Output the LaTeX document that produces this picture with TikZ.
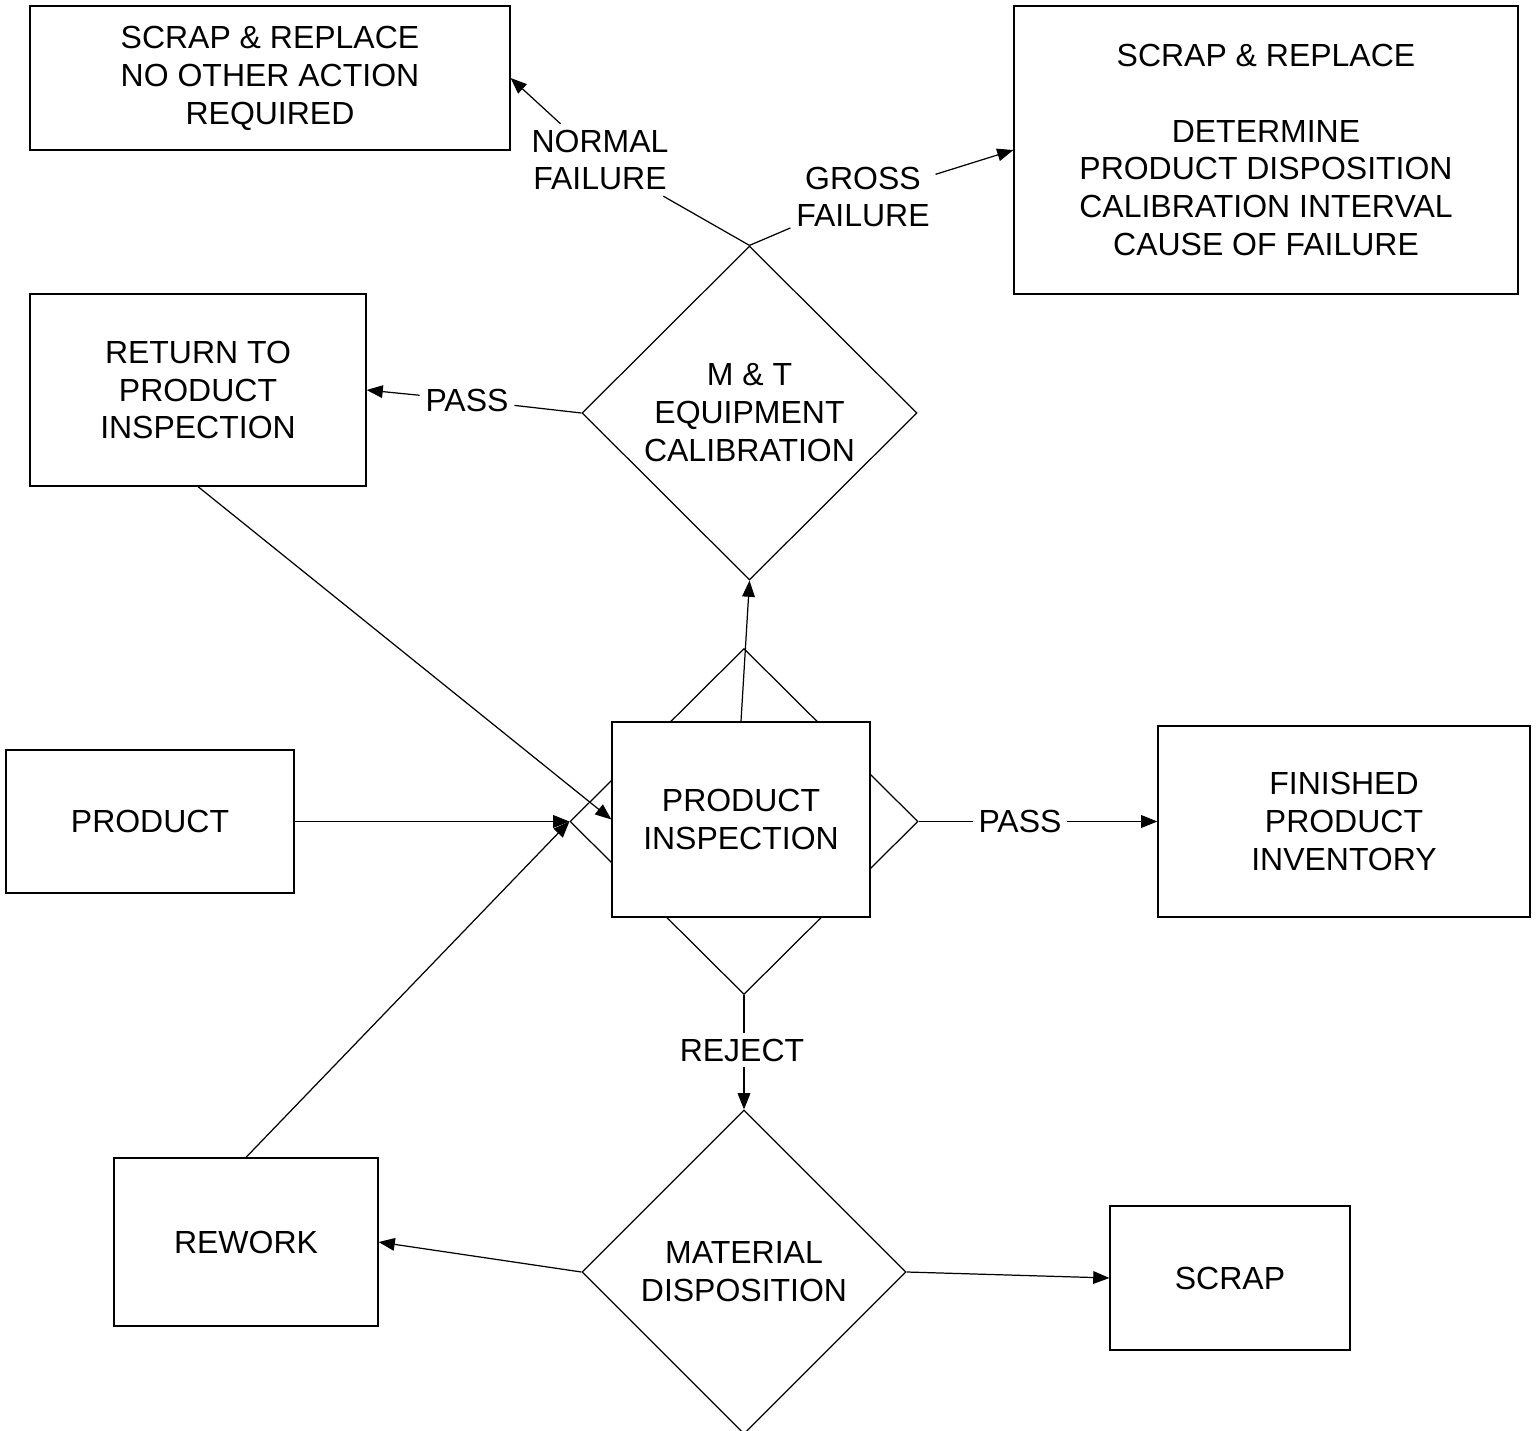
\documentclass[tikz,border=0pt]{standalone}
\usepackage{fontspec}
\setmainfont{Liberation Sans}
\usepackage{tikz}
\usetikzlibrary{arrows.meta}
\usetikzlibrary{shapes.geometric}

\begin{document}
\begin{tikzpicture}[font=\fontsize{9.1}{10.8}\selectfont, line width=0.35pt,
    >={Triangle[length=4.6pt,width=3.6pt]},
    box/.style={draw=black, fill=white, align=center, inner sep=0pt},
    dia/.style={draw=black, diamond, aspect=1, align=center, inner sep=0pt},
    lbl/.style={align=center, inner sep=1.5pt}]
    \useasboundingbox (0,0) rectangle (15.40,-14.31);
    \node[box, minimum width=4.80cm, minimum height=1.44cm] (SRN) at (2.70,-0.78) {SCRAP \& REPLACE\\NO OTHER ACTION\\REQUIRED};
    \node[box, minimum width=5.04cm, minimum height=2.88cm] (SRG) at (12.66,-1.50) {SCRAP \& REPLACE\\[10.8pt]DETERMINE\\PRODUCT DISPOSITION\\CALIBRATION INTERVAL\\CAUSE OF FAILURE};
    \node[box, minimum width=3.36cm, minimum height=1.92cm] (RET) at (1.98,-3.90) {RETURN TO\\PRODUCT\\INSPECTION};
    \node[dia, minimum width=3.35cm, minimum height=3.34cm] (MT) at (7.495,-4.13) {M \& T\\EQUIPMENT\\CALIBRATION};
    \node[dia, minimum width=3.48cm, minimum height=3.46cm] (PID) at (7.44,-8.215) {};
    \node[box, minimum width=2.58cm, minimum height=1.95cm] (PI) at (7.41,-8.195) {PRODUCT\\INSPECTION};
    \node[box, minimum width=2.88cm, minimum height=1.43cm] (PROD) at (1.50,-8.215) {PRODUCT};
    \node[box, minimum width=3.72cm, minimum height=1.91cm] (FIN) at (13.44,-8.215) {FINISHED\\PRODUCT\\INVENTORY};
    \node[dia, minimum width=3.24cm, minimum height=3.24cm] (MD) at (7.44,-12.72) {MATERIAL\\DISPOSITION};
    \node[box, minimum width=2.64cm, minimum height=1.68cm] (RW) at (2.46,-12.42) {REWORK};
    \node[box, minimum width=2.40cm, minimum height=1.44cm] (SC) at (12.30,-12.78) {SCRAP};
    \node[lbl] (LN) at (6.00,-1.60) {NORMAL\\FAILURE};
    \node[lbl] (LG) at (8.63,-1.97) {GROSS\\FAILURE};
    \node[lbl] (LP1) at (4.67,-4.00) {PASS};
    \node[lbl] (LP2) at (10.20,-8.215) {PASS};
    \node[lbl] (LR) at (7.42,-10.50) {REJECT};
    \path (MT.north) edge (LN);
    \path [->] (LN) edge (SRN.east);
    \path (MT.north) edge (LG);
    \path [->] (LG) edge (SRG.west);
    \path (MT.west) edge (LP1);
    \path [->] (LP1) edge (RET.east);
    \path [->] (RET.south) edge (PI.west);
    \path [->] (PI.north) edge (MT.south);
    \path [->] (PROD.east) edge (PID.west);
    \path [->] (RW.north) edge (PID.west);
    \path (PID.south) edge (PID.south |- LR.north);
    \path [->] (PID.south |- LR.south) edge (MD.north);
    \path (PID.east) edge (LP2);
    \path [->] (LP2) edge (FIN.west);
    \path [->] (MD.west) edge (RW.east);
    \path [->] (MD.east) edge (SC.west);
  \end{tikzpicture}
\end{document}
